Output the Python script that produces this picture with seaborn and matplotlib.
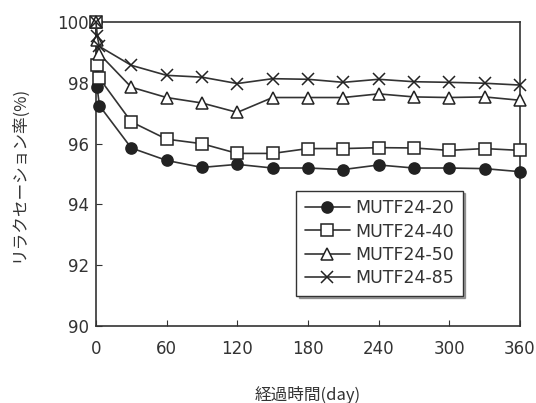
import seaborn as sns
import matplotlib.pyplot as plt
import pandas as pd

# data
days = [0, 1, 3, 30, 60, 90, 120, 150, 180, 210, 240, 270, 300, 330, 360]
mutf20 = [100, 97.85, 97.25, 95.86, 95.45, 95.22, 95.32, 95.2, 95.2, 95.15, 95.3, 95.2, 95.2, 95.18, 95.08]
mutf40 = [100, 98.6, 98.15, 96.72, 96.15, 96.0, 95.68, 95.68, 95.84, 95.84, 95.87, 95.86, 95.78, 95.84, 95.78]
mutf50 = [100, 99.4, 98.95, 97.86, 97.52, 97.34, 97.03, 97.52, 97.52, 97.52, 97.64, 97.54, 97.52, 97.54, 97.43]
mutf85 = [100, 99.55, 99.2, 98.58, 98.25, 98.19, 97.98, 98.14, 98.12, 98.02, 98.12, 98.04, 98.02, 97.99, 97.93]

labels = ['MUTF24-20', 'MUTF24-40', 'MUTF24-50', 'MUTF24-85']
series = [mutf20, mutf40, mutf50, mutf85]
markers = ['o', 's', '^', 'x']
faces = ['#222222', 'white', 'white', 'none']

df = pd.concat([pd.DataFrame({'day': days, 'rate': v, 'name': n}) for n, v in zip(labels, series)])

sns.set_style('ticks')
plt.rcParams['font.family'] = ['DejaVu Sans', 'Noto Sans CJK JP']

fig = plt.figure(figsize=(5.36, 4.03), dpi=100)
ax = fig.add_axes([0.179, 0.191, 0.791, 0.754])

for n, m, fc in zip(labels, markers, faces):
    sns.lineplot(data=df[df['name'] == n], x='day', y='rate', ax=ax, color='#333333',
                 marker=m, markersize=8 if m != 'x' else 9, markerfacecolor=fc,
                 markeredgecolor='#222222', markeredgewidth=1.1, linewidth=1.2, label=n,
                 clip_on=False, zorder=3)

ax.set_xlim(0, 360)
ax.set_ylim(90, 100)
ax.set_xticks(range(0, 361, 60))
ax.set_yticks(range(90, 101, 2))
ax.tick_params(direction='in', labelsize=12, colors='#333333', length=4)
ax.tick_params(axis='x', pad=10)
ax.tick_params(axis='y', pad=5)
for s in ax.spines.values():
    s.set_color('#333333')
    s.set_linewidth(1.2)

ax.set_xlabel('経過時間(day)', fontsize=12, color='#333333', family=['Noto Sans CJK JP', 'DejaVu Sans'], labelpad=20)
ax.set_ylabel('リラクセーション率(%)', fontsize=12, color='#333333', family=['Noto Sans CJK JP', 'DejaVu Sans'], labelpad=22)

leg = ax.legend(loc='lower right', bbox_to_anchor=(0.865, 0.10), frameon=True, fancybox=False,
                shadow=True, edgecolor='#333333', fontsize=12.5, handlelength=2.6,
                borderpad=0.5, labelspacing=0.3, handletextpad=0.3, borderaxespad=0)
leg.get_frame().set_linewidth(1.0)
for t in leg.get_texts():
    t.set_color('#333333')

fig.savefig('out.png', dpi=100)
